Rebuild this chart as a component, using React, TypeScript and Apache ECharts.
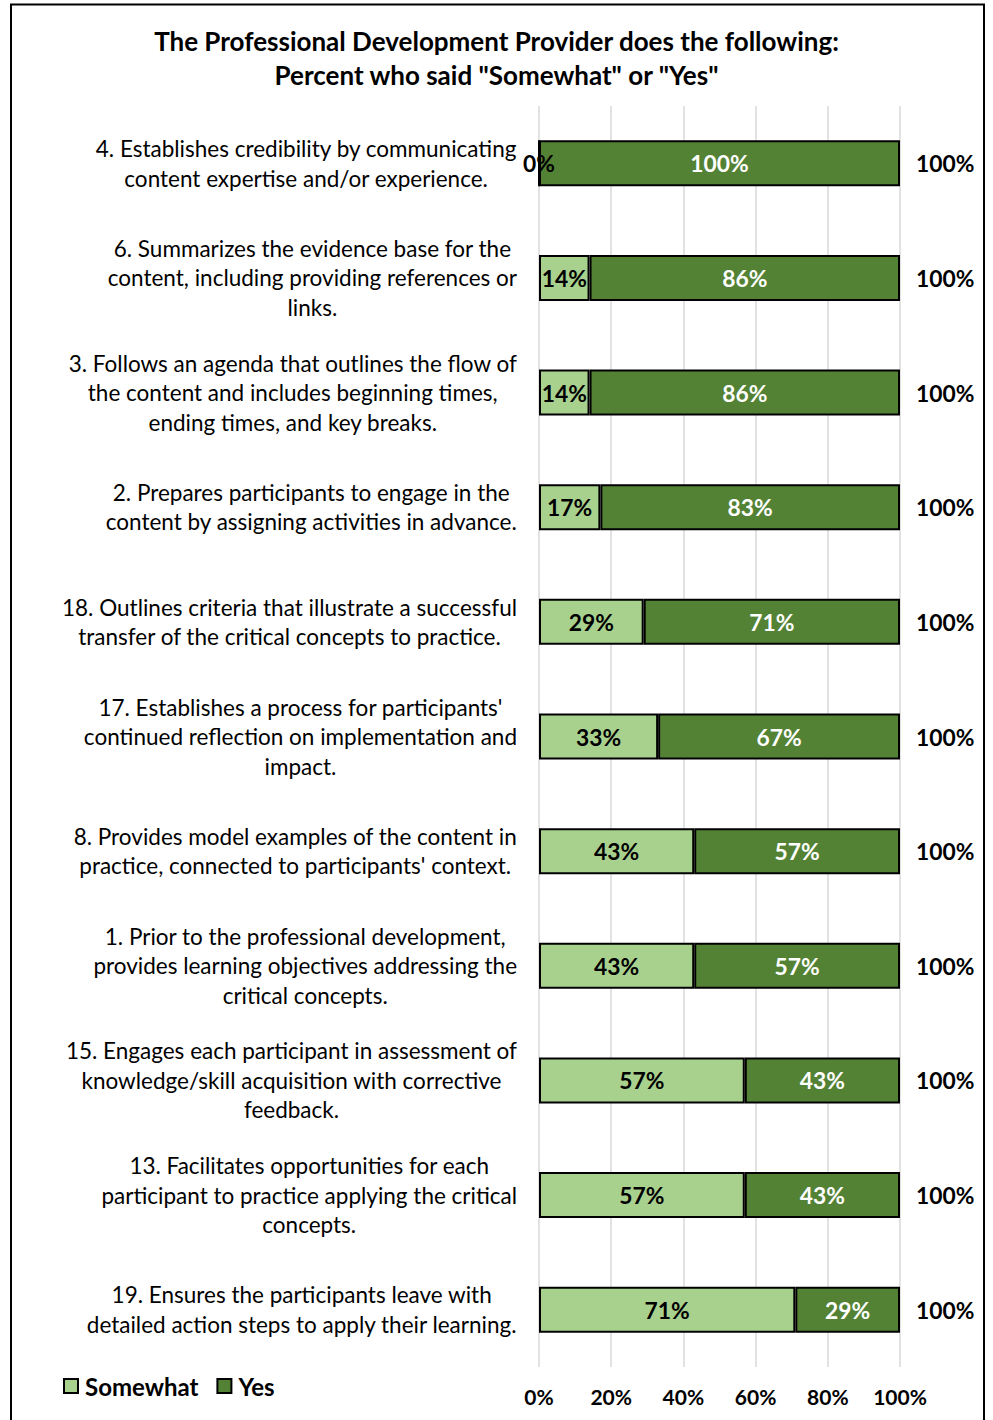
import React, { useEffect, useRef } from "react";
import * as echarts from "echarts";

const categories: string[] = [
  "4. Establishes credibility by communicating\ncontent expertise and/or experience.",
  "6. Summarizes the evidence base for the\ncontent, including providing references or\nlinks.",
  "3. Follows an agenda that outlines the flow of\nthe content and includes beginning times,\nending times, and key breaks.",
  "2. Prepares participants to engage in the\ncontent by assigning activities in advance.",
  "18. Outlines criteria that illustrate a successful\ntransfer of the critical concepts to practice.",
  "17. Establishes a process for participants'\ncontinued reflection on implementation and\nimpact.",
  "8. Provides model examples of the content in\npractice, connected to participants' context.",
  "1. Prior to the professional development,\nprovides learning objectives addressing the\ncritical concepts.",
  "15. Engages each participant in assessment of\nknowledge/skill acquisition with corrective\nfeedback.",
  "13. Facilitates opportunities for each\nparticipant to practice applying the critical\nconcepts.",
  "19. Ensures the participants leave with\ndetailed action steps to apply their learning.",
];

const somewhat: number[] = [0, 14, 14, 17, 29, 33, 43, 43, 57, 57, 71];
const yes: number[] = [100, 86, 86, 83, 71, 67, 57, 57, 43, 43, 29];
const xTicks: number[] = [0, 20, 40, 60, 80, 100];

const FONT = "Lato, 'Noto Sans', sans-serif";
const LABEL_SIZE = 22.8;

export default function App() {
  const ref = useRef<HTMLDivElement>(null);
  useEffect(() => {
    document.body.style.margin = "0";
    const chart = echarts.init(ref.current!, null, { renderer: "svg" });
    const totals = somewhat.map((s, i) => s + yes[i]);
    chart.setOption({
      animation: false,
      backgroundColor: "#ffffff",
      textStyle: { fontFamily: FONT },
      title: {
        text: 'The Professional Development Provider does the following:\nPercent who said "Somewhat" or "Yes"',
        left: "center",
        top: 19,
        textStyle: {
          fontFamily: FONT,
          fontSize: 26,
          fontWeight: "bold",
          color: "#000",
          lineHeight: 34,
        },
      },
      graphic: [
        {
          type: "rect",
          shape: { x: 11, y: 4.5, width: 973, height: 1440 },
          style: { fill: "none", stroke: "#000", lineWidth: 2 },
          silent: true,
        },
      ],
      legend: {
        data: ["Somewhat", "Yes"],
        left: 63,
        top: 1374,
        padding: 0,
        itemWidth: 14,
        itemHeight: 14,
        itemGap: 18,
        icon: "rect",
        textStyle: { fontFamily: FONT, fontSize: 24, fontWeight: "bold", color: "#000", padding: [0, 0, 0, 2] },
      },
      grid: { left: 539, right: 93, top: 106, bottom: 53, containLabel: false },
      xAxis: {
        type: "value",
        min: 0,
        max: 100,
        interval: 20,
        axisLine: { show: false },
        axisTick: { show: false },
        splitLine: { show: true, lineStyle: { color: "#d9d9d9", width: 1.5 } },
        axisLabel: {
          formatter: (v: number) => (xTicks.includes(v) ? v + "%" : ""),
          fontFamily: FONT,
          fontSize: 21,
          fontWeight: "bold",
          color: "#000",
          margin: 19,
        },
      },
      yAxis: {
        type: "category",
        inverse: true,
        data: categories,
        axisLine: { show: false },
        axisTick: { show: false },
        axisLabel: {
          margin: 22,
          align: "right",
          interval: 0,
          formatter: (v: string) =>
            v
              .split("\n")
              .map((l) => `{c|${l}}`)
              .join("\n"),
          rich: {
            c: {
              align: "center",
              fontFamily: FONT,
              fontSize: 22.5,
              lineHeight: 29.5,
              color: "#000",
            },
          },
        },
      },
      series: [
        {
          name: "Somewhat",
          type: "bar",
          stack: "total",
          barWidth: 46,
          data: somewhat,
          itemStyle: { color: "#a9d18e", borderColor: "#000", borderWidth: 2 },
          label: {
            show: true,
            position: "inside",
            formatter: (p: any) => p.value + "%",
            fontFamily: FONT,
            fontSize: LABEL_SIZE,
            fontWeight: "bold",
            color: "#000",
          },
        },
        {
          name: "Yes",
          type: "bar",
          stack: "total",
          barWidth: 46,
          data: yes,
          itemStyle: { color: "#548235", borderColor: "#000", borderWidth: 2 },
          label: {
            show: true,
            position: "inside",
            formatter: (p: any) => p.value + "%",
            fontFamily: FONT,
            fontSize: LABEL_SIZE,
            fontWeight: "bold",
            color: "#fff",
          },
        },
        {
          name: "Total",
          type: "bar",
          stack: "total",
          barWidth: 46,
          data: somewhat.map(() => 0),
          itemStyle: { color: "transparent", borderWidth: 0 },
          label: {
            show: true,
            position: "right",
            distance: 16,
            formatter: (p: any) => totals[p.dataIndex] + "%",
            fontFamily: FONT,
            fontSize: LABEL_SIZE,
            fontWeight: "bold",
            color: "#000",
          },
        },
      ],
    });
    return () => chart.dispose();
  }, []);
  return <div ref={ref} style={{ width: 993, height: 1420 }} />;
}
